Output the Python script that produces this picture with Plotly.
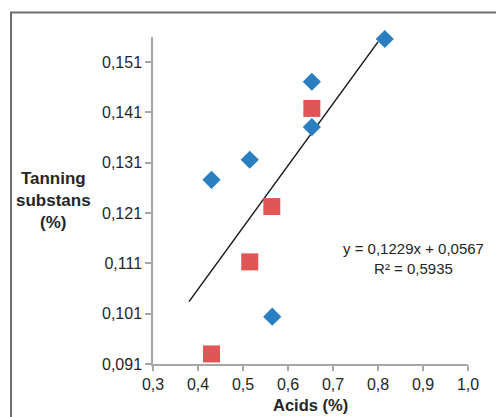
import plotly.graph_objects as go

# Data
blue_x = [0.430, 0.515, 0.565, 0.653, 0.653, 0.815]
blue_y = [0.1276, 0.1316, 0.1004, 0.1471, 0.1381, 0.1556]
red_x = [0.430, 0.515, 0.564, 0.653]
red_y = [0.0930, 0.1113, 0.1223, 0.1418]
trend_slope = 0.1229
trend_intercept = 0.0567
trend_x = [0.38, 0.80]
trend_y = [trend_slope * v + trend_intercept for v in trend_x]
x_ticks = [0.3, 0.4, 0.5, 0.6, 0.7, 0.8, 0.9, 1.0]
y_ticks = [0.091, 0.101, 0.111, 0.121, 0.131, 0.141, 0.151]

W, H = 496, 417
ML, MR, MT, MB = 153, 28, 37, 53
PW, PH = W - ML - MR, H - MT - MB

FONT = "Liberation Sans"
AX = "#a6a6a6"
TXT = "#262626"

fig = go.Figure()
fig.add_trace(go.Scatter(x=trend_x, y=trend_y, mode="lines",
                         line=dict(color="#1a1a1a", width=1.5), showlegend=False))
fig.add_trace(go.Scatter(x=blue_x, y=blue_y, mode="markers",
                         marker=dict(symbol="diamond", size=14, color="#2a7fc1", line=dict(width=0)),
                         showlegend=False, cliponaxis=False))
fig.add_trace(go.Scatter(x=red_x, y=red_y, mode="markers",
                         marker=dict(symbol="square", size=17, color="#e05656", line=dict(width=0)),
                         showlegend=False, cliponaxis=False))

fig.update_layout(
    width=W, height=H,
    margin=dict(l=ML, r=MR, t=MT, b=MB, pad=0, autoexpand=False),
    paper_bgcolor="white", plot_bgcolor="white",
    separators=", ",
    font=dict(family=FONT, size=15, color=TXT),
    showlegend=False,
    xaxis=dict(range=[0.3, 1.0], tickvals=x_ticks, tickformat=".1f", automargin=False,
               showgrid=False, zeroline=False, showline=True, linecolor=AX, linewidth=1.5,
               ticks="outside", ticklen=5, tickcolor=AX, tickwidth=1.5,
               tickfont=dict(size=16, family=FONT, color=TXT)),
    yaxis=dict(range=[0.091, 0.156], tickvals=y_ticks, tickformat=".3f", automargin=False,
               showgrid=False, zeroline=False, showline=True, linecolor=AX, linewidth=1.5,
               ticks="outside", ticklen=6, tickcolor=AX, tickwidth=1.5,
               tickfont=dict(size=16, family=FONT, color=TXT)),
)

# x-axis title
fig.add_annotation(xref="paper", yref="paper",
                   x=(310 - ML) / PW, y=-(405 - H + MB) / PH,
                   text="<b>Acids (%)</b>", showarrow=False,
                   xanchor="center", yanchor="middle",
                   font=dict(size=16.5, family=FONT, color=TXT))

# y-axis title (horizontal, three lines)
fig.add_annotation(xref="paper", yref="paper",
                   x=(53 - ML) / PW, y=1 - (201 - MT) / PH,
                   text="<b>Tanning<br>substans<br>(%)</b>", showarrow=False,
                   xanchor="center", yanchor="middle", align="center",
                   font=dict(size=17, family=FONT, color=TXT))

# trend line equation
fig.add_annotation(xref="paper", yref="paper",
                   x=(413 - ML) / PW, y=1 - (258 - MT) / PH,
                   text="y = 0,1229x + 0,0567<br>R² = 0,5935", showarrow=False,
                   xanchor="center", yanchor="middle", align="center",
                   font=dict(size=15, family=FONT, color=TXT))

# outer chart border
fig.add_shape(type="rect", xref="paper", yref="paper",
              x0=(11 - ML) / PW, x1=(510 - ML) / PW,
              y0=-(440 - H + MB) / PH, y1=1 + (MT - 12.5) / PH,
              line=dict(color="#6e6e6e", width=2), fillcolor="rgba(0,0,0,0)", layer="below")

fig.write_html("out.html", config={"displayModeBar": False},
               post_script="document.body.style.margin='0';document.body.style.padding='0';document.body.style.overflow='hidden';")
